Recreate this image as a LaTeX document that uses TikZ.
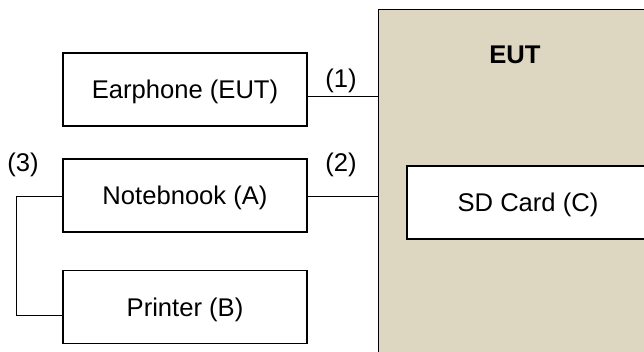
\documentclass[tikz,border=0pt]{standalone}
\usepackage{fontspec}
\setmainfont{Liberation Sans}
\definecolor{eutfill}{RGB}{221,215,193}
\begin{document}
\begin{tikzpicture}[x=1pt,y=-1pt,
  box/.style={draw=black,line width=1.4pt,fill=white,rectangle,inner sep=0pt,
    minimum width=244pt,minimum height=73pt,text height=18pt,text depth=0pt},
  conn/.style={draw=black,line width=1.4pt},
  lbl/.style={anchor=base,inner sep=0pt},
  every node/.style={font=\fontsize{25.6}{30}\selectfont}]
\useasboundingbox (0,0) rectangle (644,351);
\clip (0,0) rectangle (644,351);
\node[draw=black,line width=1.4pt,fill=eutfill,rectangle,inner sep=0pt,
  minimum width=300pt,minimum height=360pt,anchor=north west] (eut) at (378,9) {};
\node[lbl,font=\fontsize{25.6}{30}\selectfont\bfseries] (eutlbl) at (515,63) {EUT};
\node[box,minimum width=242pt] (sd) at (528,202.5) {SD Card (C)};
\node[box] (ear) at (185,89.5) {Earphone (EUT)};
\node[box] (nb) at (185,195.5) {Notebnook (A)};
\node[box] (pr) at (185,307) {Printer (B)};
\coordinate (e1) at ([yshift=-7pt]ear.east);
\coordinate (c1) at (eut.west |- e1);
\coordinate (e2) at ([yshift=-1.2pt]nb.east);
\coordinate (c2) at (eut.west |- e2);
\coordinate (w2) at ([yshift=-1.2pt]nb.west);
\coordinate (w3) at ([yshift=-8.7pt]pr.west);
\draw[conn] (e1) -- (c1);
\draw[conn] (e2) -- (c2);
\draw[conn] (w2) -- ++(-46,0) |- (w3);
\node[lbl] (l1) at (341,87) {(1)};
\node[lbl] (l2) at (341,171) {(2)};
\node[lbl] (l3) at (23,171) {(3)};
\end{tikzpicture}
\end{document}
